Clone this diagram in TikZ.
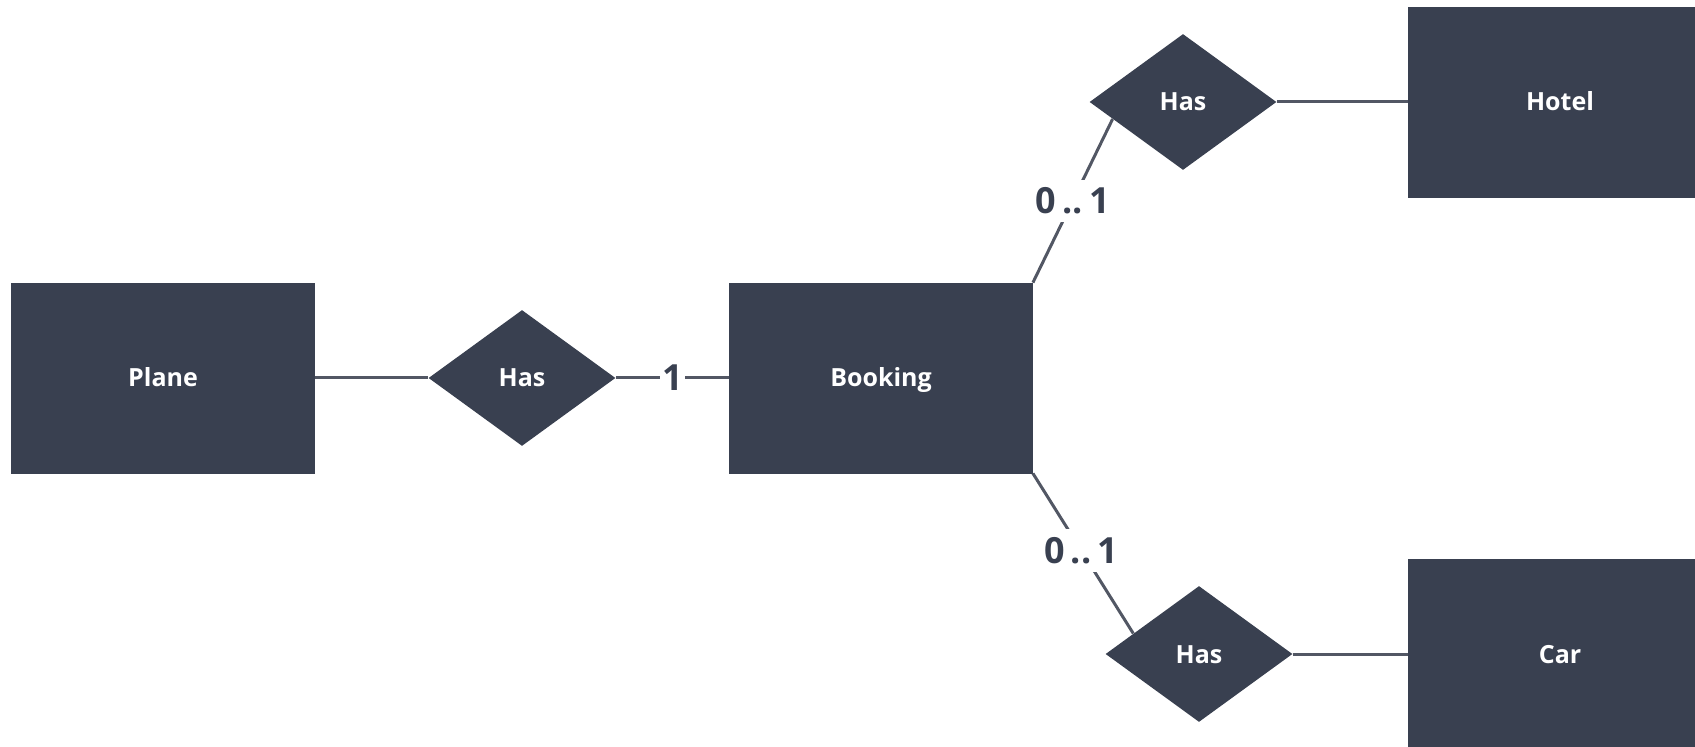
\documentclass[tikz,border=0pt]{standalone}
\usepackage{fontspec}
\setmainfont{Open Sans}
\usetikzlibrary{shapes.geometric,calc}
\definecolor{boxc}{HTML}{394050}
\definecolor{linec}{HTML}{525764}
\begin{document}
\begin{tikzpicture}[x=0.5pt,y=-0.5pt,
  entity/.style={rectangle, fill=boxc, draw=boxc, minimum width=151.5pt, minimum height=95pt, inner sep=0pt, text=white, text height=9pt, text depth=0pt, font=\bfseries\fontsize{12.5}{15}\selectfont},
  rel/.style={diamond, fill=boxc, minimum width=93.5pt, minimum height=68pt, inner sep=0pt, text=white, text height=9pt, text depth=0pt, font=\bfseries\fontsize{12.5}{15}\selectfont},
  conn/.style={draw=linec, line width=1.5pt},
  card/.style={fill=white, text=boxc, font=\bfseries\fontsize{18}{20}\selectfont, inner xsep=1pt, inner ysep=4pt}]
\useasboundingbox (0,0) rectangle (1695,747);
\clip (0,0) rectangle (1695,747);
\node[entity] (plane) at (163,378) {Plane};
\node[rel] (has1) at (522,378) {Has};
\node[entity] (booking) at (881,378) {Booking};
\node[rel] (has2) at (1183,102) {Has};
\node[entity] (hotel) at (1560,102) {Hotel};
\node[rel] (has3) at (1199,654) {Has};
\node[entity] (car) at (1560,654) {Car};
\coordinate (h2p) at ($(has2.west)!0.25!(has2.south)$);
\coordinate (h3p) at ($(has3.west)!0.3!(has3.north)$);
\draw[conn] (plane.east) -- (has1.west);
\draw[conn] (has1.east) -- node[card] (c1) {1} (booking.west);
\draw[conn] (booking.north east) -- node[card, pos=0.5] (c2) {0\,..\,1} (h2p);
\draw[conn] (booking.south east) -- node[card, pos=0.48] (c3) {0\,..\,1} (h3p);
\draw[conn] (has2.east) -- (hotel.west);
\draw[conn] (has3.east) -- (car.west);
\end{tikzpicture}
\end{document}
